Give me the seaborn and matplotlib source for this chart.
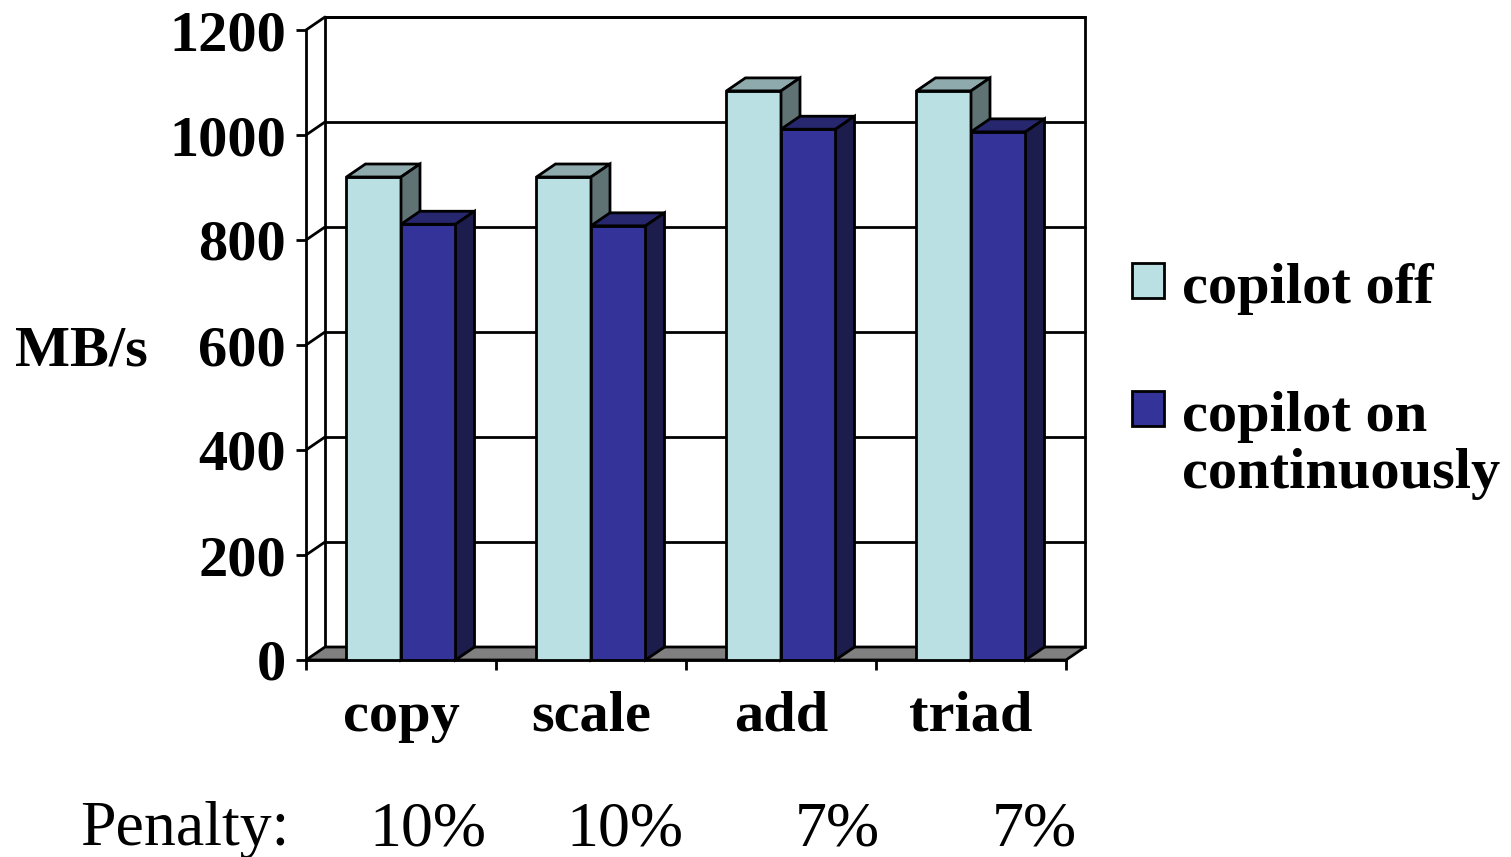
import numpy as np
import pandas as pd
import matplotlib
matplotlib.use("Agg")
import matplotlib.pyplot as plt
import matplotlib.transforms as mtransforms
from matplotlib.patches import Polygon, Patch
import seaborn as sns

# Benchmark results (MB/s)
benchmarks = ["copy", "scale", "add", "triad"]
modes = ["copilot off", "copilot on\ncontinuously"]
copilot_off = [920, 920, 1084, 1084]
copilot_on = [830, 827, 1011, 1006]
penalties = ["10%", "10%", "7%", "7%"]
y_ticks = [0, 200, 400, 600, 800, 1000, 1200]

front_colors = ["#BBE0E3", "#333399"]
top_colors = ["#8FAAAC", "#27276F"]
side_colors = ["#5F7274", "#1D1D4D"]

df = pd.DataFrame({
    "benchmark": benchmarks * 2,
    "MB/s": copilot_off + copilot_on,
    "mode": [modes[0]] * 4 + [modes[1]] * 4,
})

sns.set_theme(style="white")
plt.rcParams["font.family"] = ["Liberation Serif", "DejaVu Serif"]
plt.rcParams["text.color"] = "black"

W, H, DPI = 1511, 857, 100
fig = plt.figure(figsize=(W / DPI, H / DPI), dpi=DPI)
ax = fig.add_axes([306 / W, (H - 660) / H, 760 / W, 630 / H])
ax.set_facecolor("none")

LW = 2.0
DEPTH = np.array([19.0, 13.0])  # receding offset of the 3-D box, in pixels
FS = 42

sns.barplot(data=df, x="benchmark", y="MB/s", hue="mode", order=benchmarks,
            hue_order=modes, palette=front_colors, saturation=1, width=0.574,
            edgecolor="black", linewidth=LW, legend=False, ax=ax)

ax.set_xlim(-0.5, 3.5)
ax.set_ylim(0, 1200)

ident = mtransforms.IdentityTransform()


def pt(x, y, d=0.0):
    p = ax.transData.transform((x, y))
    return p + d * DEPTH


def poly(points, fc, z, ec="black"):
    ax.add_patch(Polygon(points, closed=True, facecolor=fc, edgecolor=ec,
                         linewidth=LW, transform=ident, clip_on=False,
                         zorder=z, joinstyle="miter"))


def seg(p0, p1, z=1.5):
    ax.add_line(plt.Line2D([p0[0], p1[0]], [p0[1], p1[1]], color="black",
                           linewidth=LW, transform=ident, clip_on=False,
                           zorder=z))


x0, x1 = -0.5, 3.5
# back wall
poly([pt(x0, 0, 1), pt(x1, 0, 1), pt(x1, 1200, 1), pt(x0, 1200, 1)], "white", 0.5)
# gridlines on the back wall and the left side wall
for v in y_ticks[1:]:
    seg(pt(x0, v, 1), pt(x1, v, 1), 0.6)
    seg(pt(x0, v, 0), pt(x0, v, 1), 0.6)
# floor
poly([pt(x0, 0, 0), pt(x1, 0, 0), pt(x1, 0, 1), pt(x0, 0, 1)], "#808080", 1.0)

# extrude the seaborn bars into 3-D columns
n = len(benchmarks)
for i, bar in enumerate(ax.patches[:2 * n]):
    k = i // n
    z = 3 + k
    bx, bw, bh = bar.get_x(), bar.get_width(), bar.get_height()
    bar.set_zorder(z)
    poly([pt(bx, bh, 0), pt(bx + bw, bh, 0), pt(bx + bw, bh, 1), pt(bx, bh, 1)],
         top_colors[k], z)
    poly([pt(bx + bw, 0, 0), pt(bx + bw, bh, 0), pt(bx + bw, bh, 1), pt(bx + bw, 0, 1)],
         side_colors[k], z)

# front axes
for s in ["top", "right"]:
    ax.spines[s].set_visible(False)
for s in ["left", "bottom"]:
    ax.spines[s].set_color("black")
    ax.spines[s].set_linewidth(LW)
    ax.spines[s].set_zorder(2)

tick_font = dict(fontsize=FS, fontweight="bold", color="black")
ax.set_yticks(y_ticks)
ax.set_yticklabels([str(v) for v in y_ticks], **tick_font)
ax.tick_params(axis="y", which="major", left=True, length=7.5, width=LW,
               color="black", pad=7, direction="out")
ax.set_xticks(range(n))
ax.set_xticklabels(benchmarks, **tick_font)
ax.set_xticks(np.arange(n + 1) - 0.5, minor=True)
ax.tick_params(axis="x", which="major", bottom=True, length=0, pad=22)
ax.tick_params(axis="x", which="minor", bottom=True, length=7.5, width=LW,
               color="black", direction="out")
ax.grid(False)
ax.set_xlabel("")
ax.set_ylabel("MB/s", rotation=0, fontsize=FS, fontweight="bold",
              color="black", ha="center", va="center")
ax.yaxis.set_label_coords(-0.295, 0.49)

# legend
handles = [Patch(facecolor=c, edgecolor="black", linewidth=LW) for c in front_colors]
leg = fig.legend(handles, modes, loc="upper left",
                 bbox_to_anchor=(1132 / W, (H - 263) / H), frameon=False,
                 prop=dict(size=FS, weight="bold"), labelcolor="black",
                 handlelength=0.55, handleheight=0.55, handletextpad=0.3,
                 labelspacing=1.3, borderpad=0, borderaxespad=0)
for t in leg.get_texts():
    t.set_linespacing(1.12)
# put each swatch beside the first line of its label
try:
    for col in leg._legend_handle_box.get_children():
        for item in col.get_children():
            item.align = "top"
except AttributeError:
    pass

# penalty row
fig.text(80 / W, (H - 845) / H, "Penalty:", fontsize=46, ha="left",
         va="baseline", color="black")
for cx, p in zip([428, 625, 837, 1034], penalties):
    fig.text(cx / W, (H - 845) / H, p, fontsize=46, ha="center",
             va="baseline", color="black")

fig.savefig("out.png", dpi=DPI)
